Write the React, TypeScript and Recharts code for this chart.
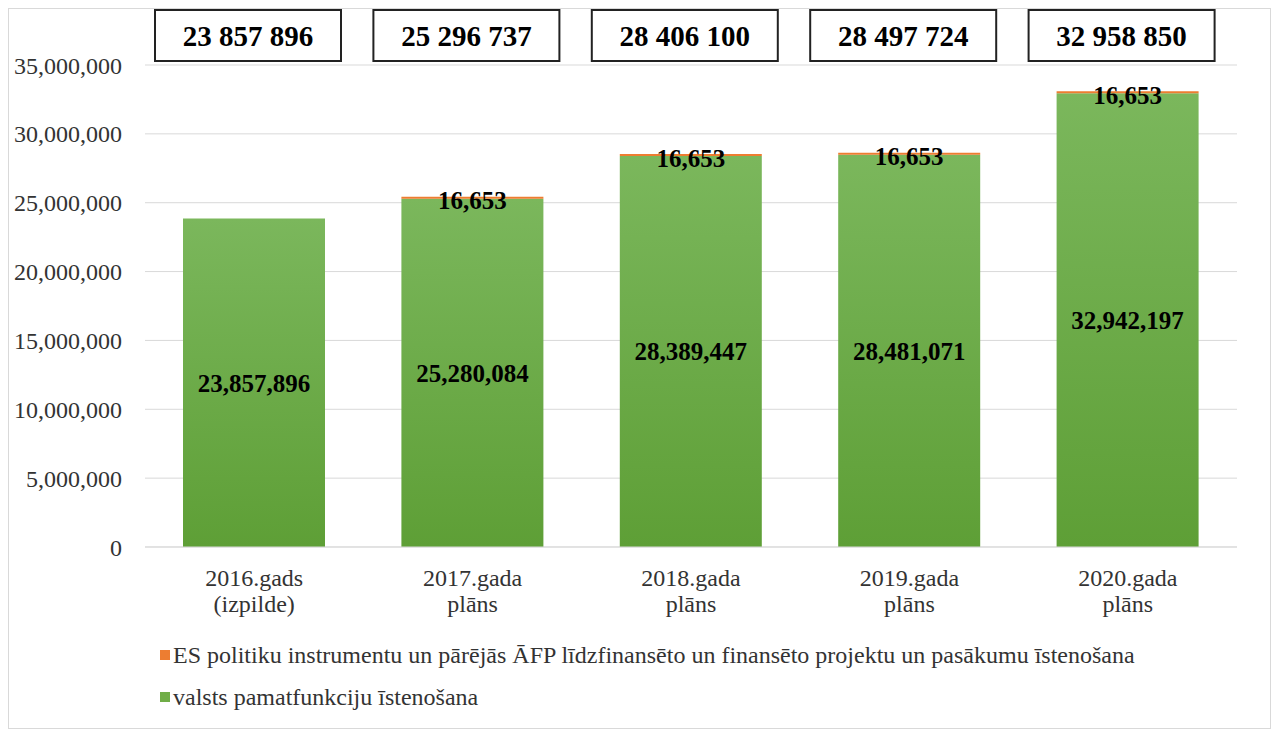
import React from 'react';
import { BarChart, Bar, XAxis, YAxis, CartesianGrid, Legend, LabelList } from 'recharts';

const years = ['2016.gads|(izpilde)', '2017.gada|plāns', '2018.gada|plāns', '2019.gada|plāns', '2020.gada|plāns'];
const baseFunctions = [23857896, 25280084, 28389447, 28481071, 32942197];
const euProjects = [null, 16653, 16653, 16653, 16653];
const yTicks = [0, 5000000, 10000000, 15000000, 20000000, 25000000, 30000000, 35000000];

const seriesNames = {
    eu: 'ES politiku instrumentu un pārējās ĀFP līdzfinansēto un finansēto projektu un pasākumu īstenošana',
    base: 'valsts pamatfunkciju īstenošana',
};

const GREEN = '#70AD47';
const ORANGE = '#ED7D31';
const FONT = '"Liberation Serif", "Times New Roman", serif';

const data = years.map((y, i) => ({
    year: y,
    base: baseFunctions[i],
    eu: euProjects[i],
    total: baseFunctions[i] + (euProjects[i] ?? 0),
}));

const withCommas = (n: number) => n.toLocaleString('en-US');
const withSpaces = (n: number) => withCommas(n).replace(/,/g, ' ');

const XTick = (props: any) => {
    const { x, y, payload } = props;
    const [l1, l2] = String(payload.value).split('|');
    return (
        <g>
            <text x={x} y={y + 31} textAnchor="middle" dominantBaseline="central" fontSize={24} fill="#333" fontFamily={FONT}>
                {l1}
            </text>
            <text x={x} y={y + 57} textAnchor="middle" dominantBaseline="central" fontSize={24} fill="#333" fontFamily={FONT}>
                {l2}
            </text>
        </g>
    );
};

const TopValue = (props: any) => {
    const { x, y, width, value } = props;
    if (!value) return null;
    return (
        <text x={x + width / 2} y={y + 4} textAnchor="middle" dominantBaseline="central" fontSize={25} fontWeight="bold" fill="#000" fontFamily={FONT}>
            {withCommas(value)}
        </text>
    );
};

// boxed totals above the plot
const TotalBox = (props: any) => {
    const { x, width, value } = props;
    const cx = x + width / 2 - 6;
    const w = 186;
    const h = 51;
    return (
        <g>
            <rect x={cx - w / 2} y={1} width={w} height={h} fill="#fff" stroke="#222" strokeWidth={2} />
            <text x={cx} y={1 + h / 2} textAnchor="middle" dominantBaseline="central" fontSize={29} fontWeight="bold" fill="#000" fontFamily={FONT}>
                {withSpaces(value)}
            </text>
        </g>
    );
};

const LegendBox = () => (
    <div style={{ paddingTop: 17, paddingLeft: 151, fontFamily: FONT, fontSize: 24, color: '#333' }}>
        {[
            { c: ORANGE, t: seriesNames.eu },
            { c: GREEN, t: seriesNames.base },
        ].map((r) => (
            <div key={r.t} style={{ height: 42, lineHeight: '42px', display: 'flex', alignItems: 'center' }}>
                <span style={{ display: 'inline-block', width: 10, height: 10, background: r.c, marginRight: 3 }} />
                <span>{r.t}</span>
            </div>
        ))}
    </div>
);

const App = () => {
    return (
        <div style={{ width: 1261, height: 719, border: '1px solid #d9d9d9', background: '#fff' }}>
            <BarChart width={1261} height={719} data={data} margin={{ top: 56, right: 33, left: 0, bottom: 10 }}>
                <defs>
                    <linearGradient id="greenFill" x1="0" y1="0" x2="0" y2="1">
                        <stop offset="0%" stopColor="#7BB75C" />
                        <stop offset="100%" stopColor="#5E9F36" />
                    </linearGradient>
                </defs>
                <CartesianGrid vertical={false} stroke="#d9d9d9" />
                <XAxis dataKey="year" height={70} tick={<XTick />} tickLine={false} tickSize={0} tickMargin={0} axisLine={{ stroke: '#d9d9d9' }} interval={0} />
                <YAxis
                    width={136}
                    domain={[0, 35000000]}
                    ticks={yTicks}
                    tickFormatter={(v) => withCommas(v)}
                    axisLine={false}
                    tickLine={false}
                    tickSize={0}
                    tickMargin={23}
                    tick={{ fontSize: 24, fill: '#333', fontFamily: FONT }}
                />
                <Legend verticalAlign="bottom" height={101} wrapperStyle={{ left: 0, width: 1261 }} content={<LegendBox />} />
                <Bar dataKey="base" stackId="a" fill="url(#greenFill)" barSize={142} isAnimationActive={false}>
                    <LabelList dataKey="base" position="center" formatter={(v: any) => withCommas(v)} style={{ fontSize: 25, fontWeight: 'bold', fill: '#000', fontFamily: FONT }} />
                    <LabelList dataKey="total" content={<TotalBox />} />
                </Bar>
                <Bar
                    dataKey="eu"
                    stackId="a"
                    fill={ORANGE}
                    barSize={142}
                    minPointSize={(_v: any, i: number) => (euProjects[i] ? 2 : 0)}
                    isAnimationActive={false}
                >
                    <LabelList dataKey="eu" content={<TopValue />} />
                </Bar>
            </BarChart>
        </div>
    );
};

export default App;
